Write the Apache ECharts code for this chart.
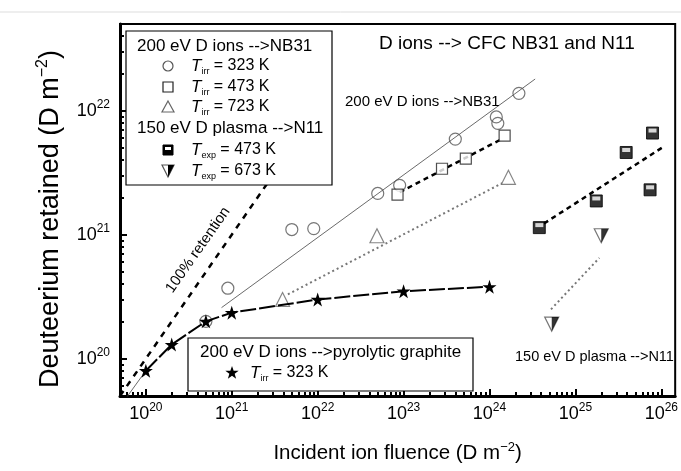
<!DOCTYPE html>
<html><head><meta charset="utf-8">
<script src="https://cdn.jsdelivr.net/npm/echarts@6/dist/echarts.min.js"></script>
<style>html,body{margin:0;padding:0;background:#fff}#c{width:681px;height:471px}</style>
</head><body><div id="c"></div>
<script>
// ---- tick labels (powers of ten) ----
const xTickPowers = [20, 21, 22, 23, 24, 25, 26];
const yTickPowers = [20, 21, 22];
const xRange = [5e19, 1.45e26];
const yRange = [5e19, 5e22];

// ---- 200 eV D ions -> NB31 ----
const irr323X = [5e20, 9e20, 5e21, 9e21, 5e22, 9e22, 4e23, 1.2e24, 1.25e24, 2.2e24];
const irr323Y = [2.0e20, 3.7e20, 1.1e21, 1.12e21, 2.15e21, 2.5e21, 5.9e21, 8.9e21, 7.9e21, 1.38e22];
const irr473X = [8.5e22, 2.8e23, 5.3e23, 1.5e24];
const irr473Y = [2.1e21, 3.4e21, 4.1e21, 6.3e21];
const irr723X = [3.9e21, 4.9e22, 1.66e24];
const irr723Y = [3.0e20, 9.8e20, 2.9e21];

// ---- 150 eV D plasma -> N11 ----
const exp473X = [3.8e24, 1.75e25, 3.9e25, 7.9e25, 7.4e25];
const exp473Y = [1.14e21, 1.87e21, 4.6e21, 6.6e21, 2.3e21];
const exp673X = [5.3e24, 2.0e25];
const exp673Y = [1.9e20, 9.8e20];

// ---- 200 eV D ions -> pyrolytic graphite ----
const pyroX = [1e20, 2e20, 5e20, 1e21, 1e22, 1e23, 1e24];
const pyroY = [8e19, 1.3e20, 2.0e20, 2.35e20, 3.0e20, 3.5e20, 3.8e20];
const pyroInitX = [6e19, 1e20];
const pyroInitY = [4.9e19, 8e19];

// ---- guide / fit lines (end points) ----
const fit323X = [7.6e20, 3.4e24];
const fit323Y = [2.58e20, 1.8e22];
const fit473X = [9e22, 1.45e24];
const fit473Y = [2.2e21, 6.0e21];
const fit723X = [4.5e21, 1.4e24];
const fit723Y = [3.3e20, 2.6e21];
const fitExp473X = [4.3e24, 1.1e26];
const fitExp473Y = [1.23e21, 5.2e21];
const fitExp673X = [5.2e24, 1.9e25];
const fitExp673Y = [2.5e20, 6.5e20];
const full100X = [5e19, 3e21];
const full100Y = [5e19, 3e21];

const L = v => Math.log10(v);
const pts = (xs, ys) => xs.map((x, i) => [L(x), L(ys[i])]);
const minorTicks = (lo, hi) => { const o = []; for (let p = lo; p <= hi; p++) for (let k = 2; k <= 9; k++) o.push(L(k * Math.pow(10, p))); return o; };

const FONT = '"Liberation Sans", Arial, sans-serif';
const STAR = 'path://M50,0 L61.8,35.1 L98.9,35.1 L68.9,56.7 L80.3,91.9 L50,70.3 L19.7,91.9 L31.1,56.7 L1.1,35.1 L38.2,35.1 Z';
const DTRI = 'path://M0,0 L2,0 L1,2 Z';
const HALF_DTRI = 'path://M0,0 L1,0 L0,2 Z';
const starPts = (cx, cy, R) => { const o = []; for (let i = 0; i < 10; i++) { const r = i % 2 ? R * 0.4 : R; const a = -Math.PI / 2 + i * Math.PI / 5; o.push([cx + r * Math.cos(a), cy + r * Math.sin(a)]); } return o; };

const powRich = {
  b: { fontSize: 18, fontFamily: FONT, color: '#000' },
  s: { fontSize: 12, fontFamily: FONT, color: '#000', padding: [0, 0, 12, 0] }
};
const powLabel = v => '{b|10}{s|' + Math.round(v) + '}';

function lineSeries(xs, ys, style) {
  return { type: 'line', data: pts(xs, ys), symbol: 'none', silent: true, z: 2,
    lineStyle: Object.assign({ color: '#000', width: 1 }, style) };
}

const chart = echarts.init(document.getElementById('c'), null, { renderer: 'canvas' });
const titleRich = { s: { fontSize: 13, fontFamily: FONT, color: '#000', padding: [0, 0, 12, 0] } };
const legRich = { t: { fontSize: 17, fontStyle: 'italic', fontFamily: FONT }, u: { fontSize: 9, fontFamily: FONT, padding: [11, 0, 0, 0] }, n: { fontSize: 16, fontFamily: FONT } };

chart.setOption({
  animation: false,
  backgroundColor: '#fff',
  grid: { left: 120, right: 5, top: 24, bottom: 75, show: true, borderColor: '#000', borderWidth: 2, containLabel: false },
  xAxis: [
    { type: 'value', min: L(xRange[0]), max: L(xRange[1]), position: 'bottom',
      axisLine: { lineStyle: { color: '#000', width: 3 } },
      axisTick: { inside: true, length: 7, lineStyle: { color: '#000', width: 2 }, customValues: xTickPowers },
      axisLabel: { customValues: xTickPowers, formatter: powLabel, rich: powRich, margin: 6 },
      splitLine: { show: false },
      name: 'Incident ion fluence (D m{s|\u22122})', nameLocation: 'middle', nameGap: 45,
      nameTextStyle: { fontSize: 20.5, fontFamily: FONT, color: '#000', rich: titleRich } },
    { type: 'value', min: L(xRange[0]), max: L(xRange[1]), position: 'bottom',
      axisLine: { show: false },
      axisTick: { inside: true, length: 4, lineStyle: { color: '#000', width: 2 }, customValues: minorTicks(19, 26) },
      axisLabel: { show: false }, splitLine: { show: false } }
  ],
  yAxis: [
    { type: 'value', min: L(yRange[0]), max: L(yRange[1]), position: 'left',
      axisLine: { lineStyle: { color: '#000', width: 3 } },
      axisTick: { inside: true, length: 7, lineStyle: { color: '#000', width: 2 }, customValues: yTickPowers },
      axisLabel: { customValues: yTickPowers, formatter: powLabel, rich: powRich, margin: 10 },
      splitLine: { show: false },
      name: 'Deuteerium retained (D m{s|\u22122})', nameLocation: 'middle', nameGap: 54,
      nameTextStyle: { fontSize: 27, fontFamily: FONT, color: '#000', padding: [0, 18, 0, 0],
        rich: { s: { fontSize: 16, fontFamily: FONT, color: '#000', padding: [0, 0, 15, 0] } } } },
    { type: 'value', min: L(yRange[0]), max: L(yRange[1]), position: 'left',
      axisLine: { show: false },
      axisTick: { inside: true, length: 4, lineStyle: { color: '#000', width: 2 }, customValues: minorTicks(19, 22) },
      axisLabel: { show: false }, splitLine: { show: false } }
  ],
  series: [
    lineSeries(full100X, full100Y, { width: 2.5, type: [6, 6] }),
    lineSeries(fit323X, fit323Y, { width: 0.8, color: '#444' }),
    lineSeries(fit473X, fit473Y, { width: 2.5, type: [5, 4] }),
    lineSeries(fit723X, fit723Y, { width: 2, color: '#777', type: [2, 3] }),
    lineSeries(fitExp473X, fitExp473Y, { width: 2.5, type: [5, 4] }),
    lineSeries(fitExp673X, fitExp673Y, { width: 2, color: '#777', type: [2, 3] }),
    lineSeries(pyroInitX, pyroInitY, { width: 0.8, color: '#444' }),
    { type: 'line', data: pts(pyroX, pyroY), symbol: STAR, symbolSize: 14, showSymbol: true, z: 4,
      itemStyle: { color: '#000' }, lineStyle: { color: '#000', width: 2, type: [16, 3] } },
    { type: 'scatter', data: pts(irr323X, irr323Y), symbol: 'circle', symbolSize: 12, z: 3,
      itemStyle: { color: 'rgba(255,255,255,0)', borderColor: '#555', borderWidth: 1.2 } },
    { type: 'scatter', data: pts(irr473X, irr473Y), symbol: 'rect', symbolSize: 11, z: 3,
      itemStyle: { color: '#fff', borderColor: '#222', borderWidth: 1.2 } },
    { type: 'scatter', data: pts(irr723X, irr723Y), symbol: 'triangle', symbolSize: 14, z: 3,
      itemStyle: { color: '#fff', borderColor: '#666', borderWidth: 1.2 } },
    { type: 'scatter', data: pts(exp473X, exp473Y), symbol: 'rect', symbolSize: 12, z: 3,
      itemStyle: { color: '#000', borderColor: '#000', borderWidth: 1 } },
    { type: 'scatter', data: pts(exp473X, exp473Y), symbol: 'rect', symbolSize: [8, 4], symbolOffset: [0, -2.5], z: 4,
      itemStyle: { color: '#fff' } },
    { type: 'scatter', data: pts(exp673X, exp673Y), symbol: DTRI, symbolSize: 14, z: 3,
      itemStyle: { color: '#fff', borderColor: '#555', borderWidth: 1.2 } },
    { type: 'scatter', data: pts(exp673X, exp673Y), symbol: HALF_DTRI, symbolSize: [7, 14], symbolOffset: [3.5, 0], z: 4,
      itemStyle: { color: '#000' } }
  ],
  graphic: [
    { type: 'line', z: 100, shape: { x1: 0, y1: 12, x2: 681, y2: 12 }, style: { stroke: '#ddd', lineWidth: 1 } },
    // title & annotations
    { type: 'text', z: 100, x: 379, y: 44, style: { text: 'D ions --> CFC NB31 and N11', font: '19px ' + FONT, fill: '#000', verticalAlign: 'middle' } },
    { type: 'text', z: 100, x: 345, y: 102, style: { text: '200 eV D ions -->NB31', font: '15px ' + FONT, fill: '#000', verticalAlign: 'middle' } },
    { type: 'text', z: 100, x: 515, y: 357, style: { text: '150 eV D plasma -->N11', font: '14.5px ' + FONT, fill: '#000', verticalAlign: 'middle' } },
    { type: 'text', z: 100, x: 198, y: 250, rotation: 55 * Math.PI / 180, style: { text: '100% retention', font: '15px ' + FONT, fill: '#000', align: 'center', verticalAlign: 'middle' } },
    // legend box 1
    { type: 'rect', z: 100, shape: { x: 126, y: 31, width: 206, height: 154 }, style: { fill: '#fff', stroke: '#000', lineWidth: 1.2 } },
    { type: 'text', z: 101, x: 137, y: 46, style: { text: '200 eV D ions -->NB31', font: '17px ' + FONT, fill: '#000', verticalAlign: 'middle' } },
    { type: 'text', z: 101, x: 137, y: 128, style: { text: '150 eV D plasma -->N11', font: '17px ' + FONT, fill: '#000', verticalAlign: 'middle' } },
    { type: 'circle', z: 101, shape: { cx: 168, cy: 66, r: 5 }, style: { fill: '#fff', stroke: '#555', lineWidth: 1.2 } },
    { type: 'rect', z: 101, shape: { x: 163, y: 82, width: 10, height: 10 }, style: { fill: '#fff', stroke: '#222', lineWidth: 1.2 } },
    { type: 'polygon', z: 101, shape: { points: [[168, 101], [174, 112], [162, 112]] }, style: { fill: '#fff', stroke: '#666', lineWidth: 1.2 } },
    { type: 'rect', z: 101, shape: { x: 163, y: 145, width: 10, height: 10 }, style: { fill: '#000', stroke: '#000', lineWidth: 1 } },
    { type: 'rect', z: 102, shape: { x: 165, y: 147, width: 6, height: 3 }, style: { fill: '#fff' } },
    { type: 'polygon', z: 101, shape: { points: [[162, 165], [174, 165], [168, 177]] }, style: { fill: '#fff', stroke: '#555', lineWidth: 1.2 } },
    { type: 'polygon', z: 102, shape: { points: [[168, 165], [174, 165], [168, 177]] }, style: { fill: '#000' } },
    ...[['irr', '323 K', 66], ['irr', '473 K', 87], ['irr', '723 K', 107], ['exp', '473 K', 150], ['exp', '673 K', 171]].map(r => ({
      type: 'text', z: 101, x: 191, y: r[2], style: {
        text: '{t|T}{u|' + r[0] + '}{n| = ' + r[1] + '}', verticalAlign: 'middle', fill: '#000', rich: legRich } })),
    // legend box 2
    { type: 'rect', z: 100, shape: { x: 188, y: 338, width: 285, height: 53 }, style: { fill: '#fff', stroke: '#000', lineWidth: 1.2 } },
    { type: 'text', z: 101, x: 200, y: 352, style: { text: '200 eV D ions -->pyrolytic graphite', font: '17px ' + FONT, fill: '#000', verticalAlign: 'middle' } },
    { type: 'polygon', z: 101, shape: { points: starPts(232, 373, 7) }, style: { fill: '#000' } },
    { type: 'text', z: 101, x: 250, y: 373, style: {
        text: '{t|T}{u|irr}{n| = 323 K}', verticalAlign: 'middle', fill: '#000', rich: legRich } }
  ]
});
</script>
</body></html>
